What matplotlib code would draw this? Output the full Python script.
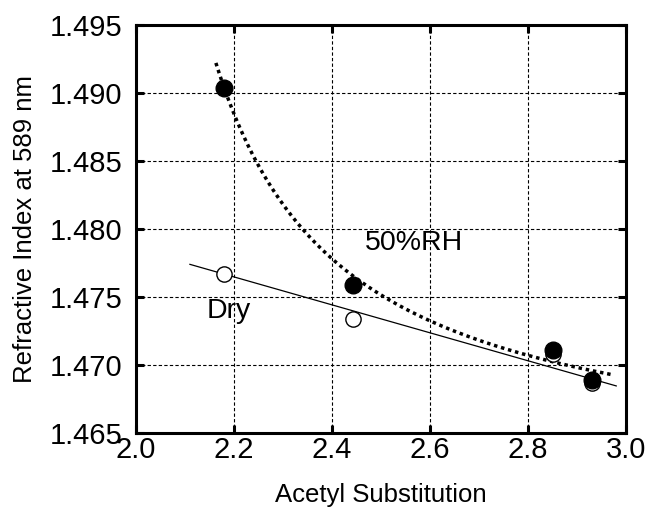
import numpy as np
import matplotlib
matplotlib.use("Agg")
import matplotlib.pyplot as plt

plt.rcParams['font.family'] = ['Liberation Sans', 'DejaVu Sans']

# Data
acetyl = [2.18, 2.442, 2.851, 2.930]
ri_dry = [1.4767, 1.4734, 1.4708, 1.4687]
ri_rh50 = [1.4904, 1.4759, 1.4711, 1.4689]

# Fitted trend lines
dry_fit_x = [2.11, 2.98]
dry_fit_y = [1.4774, 1.46846]
rh_fit_range = [2.163, 2.97]
rh_fit_a, rh_fit_b, rh_fit_c = 1.46183, 0.00799, 1.9   # y = a + b/(x - c)

xticks = [2.0, 2.2, 2.4, 2.6, 2.8, 3.0]
yticks = [1.465, 1.470, 1.475, 1.480, 1.485, 1.490, 1.495]

fig = plt.figure(figsize=(6.48, 5.07), dpi=100)
ax = fig.add_axes([0.2099, 0.146, 0.7562, 0.8047])

ax.set_xlim(2.0, 3.0)
ax.set_ylim(1.465, 1.495)
ax.set_xticks(xticks)
ax.set_yticks(yticks)
ax.set_xticklabels([f"{v:.1f}" for v in xticks])
ax.set_yticklabels([f"{v:.3f}" for v in yticks])

ax.grid(True, color='black', linestyle=(0, (3, 2)), linewidth=0.8)
ax.set_axisbelow(True)

for s in ax.spines.values():
    s.set_linewidth(2.2)
ax.tick_params(direction='in', length=6, width=2.2, top=True, right=True,
               labelsize=21, colors='black')
ax.tick_params(axis='y', pad=10)
ax.tick_params(axis='x', pad=2)

# trend lines
ax.plot(dry_fit_x, dry_fit_y, color='black', linewidth=0.9, zorder=3)
xc = np.linspace(rh_fit_range[0], rh_fit_range[1], 200)
yc = rh_fit_a + rh_fit_b / (xc - rh_fit_c)
ax.plot(xc, yc, color='black', linewidth=2.5, linestyle=(0, (1, 1.1)), zorder=3)

# markers
ax.plot(acetyl, ri_dry, linestyle='none', marker='o', markersize=11,
        markerfacecolor='white', markeredgecolor='black', markeredgewidth=1.0, zorder=4)
ax.plot(acetyl, ri_rh50, linestyle='none', marker='o', markersize=12,
        markerfacecolor='black', markeredgecolor='black', zorder=5)

ax.text(2.467, 1.4790, "50%RH", fontsize=20.5, va='center', ha='left')
ax.text(2.145, 1.4740, "Dry", fontsize=20.5, va='center', ha='left')

ax.set_xlabel("Acetyl Substitution", fontsize=18.5, labelpad=14)
ax.set_ylabel("Refractive Index at 589 nm", fontsize=18.5, labelpad=9)

fig.savefig("out.png", dpi=100)
